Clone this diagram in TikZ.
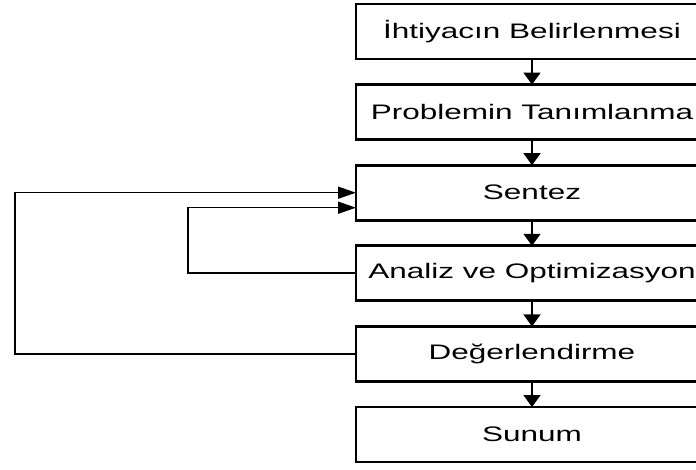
\documentclass[tikz,border=0pt]{standalone}
\usepackage{fontspec}
\setmainfont[FakeStretch=1.5]{Liberation Sans}
\usetikzlibrary{positioning,arrows.meta}

\begin{document}
\begin{tikzpicture}[x=1pt,y=1pt]

% Box and line styles
\tikzset{
    stage/.style={draw,line width=2.8pt,minimum width=352pt,minimum height=55pt,
        inner sep=1pt,outer sep=0pt,font=\fontsize{21}{25}\selectfont},
    link/.style={line width=1.6pt,-{Triangle[length=12pt,width=17pt]}},
    back/.style={line width=1.6pt,-{Triangle[length=18pt,width=12pt]}}
}

\useasboundingbox (0,0) rectangle (696,469);
\clip (0,0) rectangle (696,469);

% Stages
\node[stage] (ihtiyac) at (532,437.5) {İhtiyacın Belirlenmesi};
\node[stage,below=25.6pt of ihtiyac] (problem) {Problemin Tanımlanma};
\node[stage,below=25.6pt of problem] (sentez) {Sentez};
\node[stage,below=25.6pt of sentez] (analiz) {Analiz ve Optimizasyon};
\node[stage,below=25.6pt of analiz] (deger) {Değerlendirme};
\node[stage,below=25.6pt of deger] (sunum) {Sunum};

% Flow
\draw[link] (ihtiyac) -- (problem);
\draw[link] (problem) -- (sentez);
\draw[link] (sentez) -- (analiz);
\draw[link] (analiz) -- (deger);
\draw[link] (deger) -- (sunum);

% Feedback
\draw[back] (analiz.west) -- ++(-168,0) |- ([yshift=-15pt]sentez.west);
\draw[back] (deger.west) -- ++(-341,0) |- (sentez.west);

\end{tikzpicture}
\end{document}
